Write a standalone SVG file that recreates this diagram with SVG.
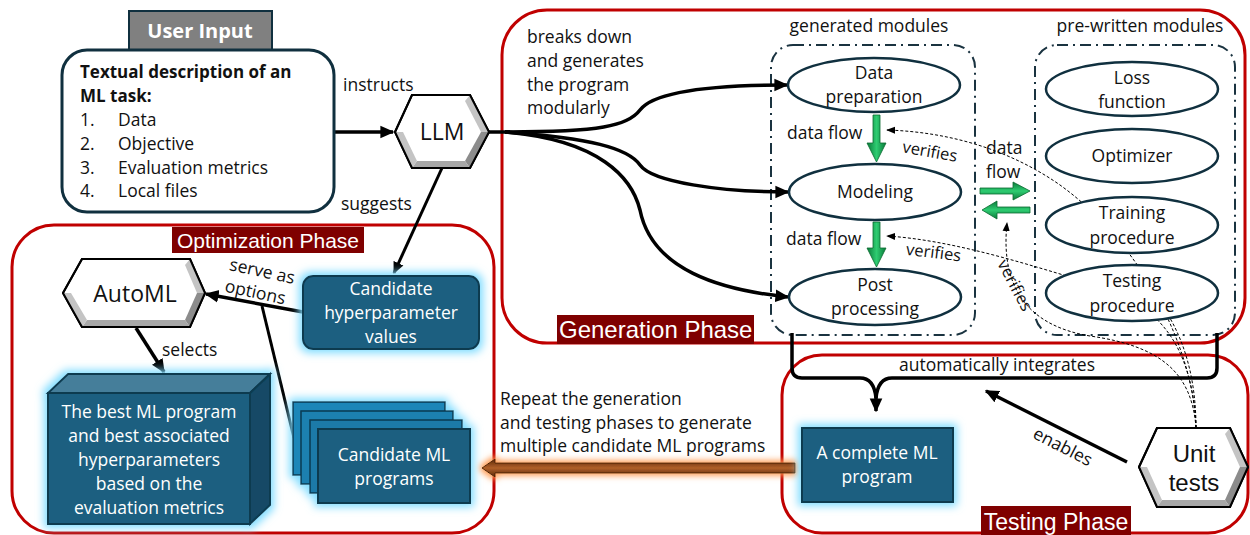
<svg xmlns="http://www.w3.org/2000/svg" width="1250" height="535" viewBox="0 0 1250 535">
<defs>
<style>
text{font-family:"Open Sans","Liberation Sans",Arial,sans-serif;font-size:17.5px;fill:#111}
.c{text-anchor:middle}
.w{fill:#fff}
.b{font-weight:bold}
.ls{font-family:"Liberation Sans",Arial,sans-serif}
.red{fill:none;stroke:#c00000;stroke-width:3}
.lab{fill:#7f0000}
.dd{fill:none;stroke:#1a3340;stroke-width:2;stroke-dasharray:11 5 2 5}
.ell{fill:#fff;stroke:#10303f;stroke-width:2.5}
.blue{fill:#1b5e80;stroke:#0e3a50;stroke-width:2}
.conn{fill:none;stroke:#000;stroke-width:3.5}
.dash{fill:none;stroke:#000;stroke-width:1;stroke-dasharray:3 2}
.hexo{fill:#fff;stroke:#000;stroke-width:2}
.bl{fill:#c4c4c4}
.bd{fill:#8c8c8c}
.bm{fill:#a8a8a8}
</style>
<marker id="ah" viewBox="0 0 10 10" refX="9" refY="5" markerWidth="9" markerHeight="9" orient="auto"><path d="M0,1L10,5L0,9z" fill="#000"/></marker>
<marker id="ahs" viewBox="0 0 10 10" refX="9" refY="5" markerWidth="4" markerHeight="4" orient="auto"><path d="M0,0.5L10,5L0,9.5z" fill="#000"/></marker>
<linearGradient id="gv" x1="0" y1="0" x2="1" y2="0"><stop offset="0" stop-color="#0a7a3a"/><stop offset="0.5" stop-color="#2ecc71"/><stop offset="1" stop-color="#0a7a3a"/></linearGradient>
<linearGradient id="gh" x1="0" y1="0" x2="0" y2="1"><stop offset="0" stop-color="#0a7a3a"/><stop offset="0.5" stop-color="#2ecc71"/><stop offset="1" stop-color="#0a7a3a"/></linearGradient>
<linearGradient id="br" x1="0" y1="0" x2="0" y2="1"><stop offset="0" stop-color="#5a2808"/><stop offset="0.5" stop-color="#b0602a"/><stop offset="1" stop-color="#5a2808"/></linearGradient>
<filter id="glow" x="-20%" y="-20%" width="140%" height="140%"><feMorphology in="SourceAlpha" operator="dilate" radius="3" result="d"/><feGaussianBlur in="d" stdDeviation="4" result="b"/><feFlood flood-color="#7fdcff"/><feComposite in2="b" operator="in" result="g"/><feMerge><feMergeNode in="g"/><feMergeNode in="SourceGraphic"/></feMerge></filter>
<filter id="oglow" x="-5%" y="-100%" width="110%" height="300%"><feMorphology in="SourceAlpha" operator="dilate" radius="2" result="d"/><feGaussianBlur in="d" stdDeviation="3" result="b"/><feFlood flood-color="#ff9a50"/><feComposite in2="b" operator="in" result="g"/><feMerge><feMergeNode in="g"/><feMergeNode in="SourceGraphic"/></feMerge></filter>
</defs>
<rect width="1250" height="535" fill="#fff"/>

<!-- phase frames -->
<g id="generation-phase">
<rect class="red" x="502" y="10" width="743" height="333" rx="45"/>
<rect class="lab" x="557" y="315" width="197" height="29"/>
<text class="w ls" x="559" y="338" style="font-size:24px">Generation Phase</text>
</g>
<g id="optimization-phase">
<rect class="red" x="12" y="225" width="482" height="308" rx="42"/>
<rect class="lab" x="172" y="227" width="192" height="26"/>
<text class="w c ls" x="268" y="248" style="font-size:21px">Optimization Phase</text>
</g>
<g id="testing-phase">
<rect class="red" x="782" y="355" width="466" height="178" rx="40"/>
<rect class="lab" x="981" y="506" width="150" height="29"/>
<text class="w c ls" x="1056" y="530" style="font-size:23px">Testing Phase</text>
</g>

<!-- module containers -->
<g id="generated-modules">
<rect class="dd" x="771" y="45" width="204" height="290" rx="22"/>
<text class="c" x="869" y="32">generated modules</text>
</g>
<g id="prewritten-modules">
<rect class="dd" x="1035" y="45" width="200" height="290" rx="22"/>
<text class="c" x="1140" y="32">pre-written modules</text>
</g>

<!-- connectors -->
<g id="connectors">
<path class="conn" d="M335,132 H393" marker-end="url(#ahs)"/>
<path class="conn" d="M489,132 H510"/>
<path class="conn" d="M505,132 C600,132 628,126 640,110 C655,90 720,85 787,85" marker-end="url(#ahs)"/>
<path class="conn" d="M505,132 C590,138 628,148 640,165 C652,182 720,192 788,192" marker-end="url(#ahs)"/>
<path class="conn" d="M505,132 C600,140 632,178 640,210 C652,270 720,290 788,297" marker-end="url(#ahs)"/>
<path class="conn" d="M442,168 L394,273" marker-end="url(#ahs)" style="stroke-width:3"/>
<path class="conn" d="M303,312 L206,294" marker-end="url(#ahs)"/>
<path class="conn" d="M262,306 L294,438" style="stroke-width:3"/>
<path class="conn" d="M136,328 L164,372" marker-end="url(#ahs)"/>
<path class="conn" d="M792,333 V368 Q792,378 802,378 H860 Q874,378 876,398 M1217,333 V368 Q1217,378 1207,378 H892 Q878,378 876,398"/>
<path class="conn" d="M876,396 V411" marker-end="url(#ahs)"/>
<path class="conn" d="M1127,462 L986,391" marker-end="url(#ahs)"/>
<path class="dash" d="M1196,428 C1195,360 1150,250 1060,185 C1010,150 950,132 887,130" marker-end="url(#ah)"/>
<path class="dash" d="M1196,428 C1192,345 1160,300 1080,280 C1020,262 950,240 887,236" marker-end="url(#ah)"/>
<path class="dash" d="M1196,428 C1192,372 1160,346 1090,336 C1030,326 1000,290 1007,223" marker-end="url(#ah)"/>
<path class="dash" d="M1196,428 C1196,380 1185,330 1150,290"/>
<!-- green data flow arrows -->
<path d="M873,115 H880 V143 H886 L876.5,162 L867,143 H873 Z" fill="url(#gv)" stroke="#0a6a30" stroke-width="0.8"/>
<path d="M873,222 H880 V248 H886 L876.5,267 L867,248 H873 Z" fill="url(#gv)" stroke="#0a6a30" stroke-width="0.8"/>
<path d="M980,188 H1013 V182 L1030,191 L1013,200 V194 H980 Z" fill="url(#gh)" stroke="#0a6a30" stroke-width="0.8"/>
<path d="M1030,207 H997 V201 L982,210 L997,219 V213 H1030 Z" fill="url(#gh)" stroke="#0a6a30" stroke-width="0.8"/>
<!-- repeat arrow -->
<path d="M795,463 H495 V459 L482,468 L495,477 V473 H795 Z" fill="url(#br)" stroke="#4a2000" stroke-width="1" filter="url(#oglow)"/>
</g>

<!-- connector labels -->
<g id="labels">
<text x="343" y="91">instructs</text>
<text x="341" y="210">suggests</text>
<text x="527" y="43">breaks down</text>
<text x="527" y="67">and generates</text>
<text x="527" y="91">the program</text>
<text x="527" y="114">modularly</text>
<text x="787" y="139">data flow</text>
<text x="786" y="245">data flow</text>
<text x="929" y="157" class="c" style="font-size:16.5px" transform="rotate(10 929 157)">verifies</text>
<text x="933" y="258" class="c" style="font-size:16.5px" transform="rotate(7 933 258)">verifies</text>
<text x="1010" y="288" class="c" style="font-size:16.5px" transform="rotate(62 1010 288)">verifies</text>
<text x="986" y="154">data</text>
<text x="986" y="178">flow</text>
<text x="997" y="371" class="c">automatically integrates</text>
<text x="1060" y="452" class="c" transform="rotate(27 1060 452)">enables</text>
<text x="261" y="277" class="c" transform="rotate(12 261 277)">serve as</text>
<text x="254" y="298" class="c" transform="rotate(12 254 298)">options</text>
<text x="162" y="356">selects</text>
<text x="500" y="405">Repeat the generation</text>
<text x="500" y="429">and testing phases to generate</text>
<text x="500" y="452">multiple candidate ML programs</text>
</g>

<!-- nodes -->
<g id="user-input">
<rect x="129" y="11" width="143" height="39" fill="#808080" stroke="#10303f" stroke-width="2"/>
<text class="w b c" x="200" y="38" style="font-size:20px">User Input</text>
<rect x="62" y="50" width="272" height="162" rx="25" fill="#fff" stroke="#10303f" stroke-width="3"/>
<text class="b" x="80" y="78" style="font-size:17px">Textual description of an</text>
<text class="b" x="80" y="102" style="font-size:17px">ML task:</text>
<text x="80" y="126">1.</text><text x="118" y="126">Data</text>
<text x="80" y="150">2.</text><text x="118" y="150">Objective</text>
<text x="80" y="174">3.</text><text x="118" y="174">Evaluation metrics</text>
<text x="80" y="197">4.</text><text x="118" y="197">Local files</text>
</g>

<g id="llm">
<polygon class="hexo" points="395,132 412,95 470,95 489,132 470,168 412,168"/>
<polygon class="bl" points="470,95 489,132 481,132 465,101"/>
<polygon class="bd" points="489,132 470,168 465,161 481,132"/>
<polygon class="bm" points="470,168 412,168 417,161 465,161"/>
<polygon class="bl" points="412,168 395,132 403,132 417,161"/>
<polygon points="395,132 412,95 470,95 489,132 470,168 412,168" fill="none" stroke="#000" stroke-width="2"/>
<text class="c" x="442" y="140" style="font-size:23px">LLM</text>
</g>

<g id="data-preparation">
<ellipse class="ell" cx="874" cy="85" rx="86" ry="27"/>
<text class="c" x="874" y="79">Data</text>
<text class="c" x="874" y="103">preparation</text>
</g>
<g id="modeling">
<ellipse class="ell" cx="875" cy="192" rx="86" ry="28"/>
<text class="c" x="875" y="198">Modeling</text>
</g>
<g id="post-processing">
<ellipse class="ell" cx="875" cy="297" rx="86" ry="28"/>
<text class="c" x="875" y="291">Post</text>
<text class="c" x="875" y="315">processing</text>
</g>
<g id="loss-function">
<ellipse class="ell" cx="1132" cy="89" rx="86" ry="27"/>
<text class="c" x="1132" y="84">Loss</text>
<text class="c" x="1132" y="108">function</text>
</g>
<g id="optimizer">
<ellipse class="ell" cx="1132" cy="156" rx="86" ry="27"/>
<text class="c" x="1132" y="162">Optimizer</text>
</g>
<g id="training-procedure">
<ellipse class="ell" cx="1132" cy="225" rx="86" ry="28"/>
<text class="c" x="1132" y="219">Training</text>
<text class="c" x="1132" y="244">procedure</text>
</g>
<g id="testing-procedure">
<ellipse class="ell" cx="1132" cy="293" rx="86" ry="28"/>
<text class="c" x="1132" y="287">Testing</text>
<text class="c" x="1132" y="312">procedure</text>
</g>

<g id="complete-ml-program">
<rect class="blue" x="802" y="428" width="151" height="74" filter="url(#glow)"/>
<text class="w c" x="877" y="459">A complete ML</text>
<text class="w c" x="877" y="483">program</text>
</g>

<g id="unit-tests">
<polygon class="hexo" points="1139,467 1157,428 1230,428 1248,467 1230,507 1157,507"/>
<polygon class="bl" points="1230,428 1248,467 1240,467 1225,434"/>
<polygon class="bd" points="1248,467 1230,507 1225,500 1240,467"/>
<polygon class="bm" points="1230,507 1157,507 1162,500 1225,500"/>
<polygon class="bl" points="1157,507 1139,467 1147,467 1162,500"/>
<polygon points="1139,467 1157,428 1230,428 1248,467 1230,507 1157,507" fill="none" stroke="#000" stroke-width="2"/>
<text class="c ls" x="1194" y="462" style="font-size:24px">Unit</text>
<text class="c ls" x="1194" y="491" style="font-size:24px">tests</text>
</g>

<g id="automl">
<polygon class="hexo" points="63,293 82,259 190,259 205,293 190,327 82,327"/>
<polygon class="bl" points="190,259 205,293 197,293 185,265"/>
<polygon class="bd" points="205,293 190,327 185,320 197,293"/>
<polygon class="bm" points="190,327 82,327 87,320 185,320"/>
<polygon class="bl" points="82,327 63,293 71,293 87,320"/>
<polygon points="63,293 82,259 190,259 205,293 190,327 82,327" fill="none" stroke="#000" stroke-width="2"/>
<text class="c" x="135" y="302" style="font-size:23px">AutoML</text>
</g>

<g id="candidate-hyperparameters">
<rect class="blue" x="303" y="276" width="176" height="73" rx="10" filter="url(#glow)"/>
<text class="w c" x="391" y="295">Candidate</text>
<text class="w c" x="391" y="319">hyperparameter</text>
<text class="w c" x="391" y="343">values</text>
</g>

<g id="candidate-ml-programs" filter="url(#glow)">
<rect x="293" y="402" width="152" height="73" fill="#1a86b8" stroke="#0e3a50" stroke-width="1.5"/>
<rect x="301" y="411" width="152" height="73" fill="#1a80b0" stroke="#0e3a50" stroke-width="1.5"/>
<rect x="310" y="420" width="152" height="73" fill="#1a7aa8" stroke="#0e3a50" stroke-width="1.5"/>
<rect class="blue" x="318" y="429" width="152" height="74"/>
</g>
<g id="candidate-ml-programs-text">
<text class="w c" x="394" y="461">Candidate ML</text>
<text class="w c" x="394" y="485">programs</text>
</g>

<g id="best-ml-program">
<g filter="url(#glow)">
<polygon points="48,393 68,374 270,374 250,393" fill="#447e9a" stroke="#0e3a50" stroke-width="2"/>
<polygon points="250,393 270,374 270,505 250,524" fill="#124a66" stroke="#0e3a50" stroke-width="2"/>
<rect class="blue" x="48" y="393" width="202" height="131"/>
</g>
<text class="w c" x="149" y="418">The best ML program</text>
<text class="w c" x="149" y="442">and best associated</text>
<text class="w c" x="149" y="466">hyperparameters</text>
<text class="w c" x="149" y="490">based on the</text>
<text class="w c" x="149" y="514">evaluation metrics</text>
</g>
</svg>
